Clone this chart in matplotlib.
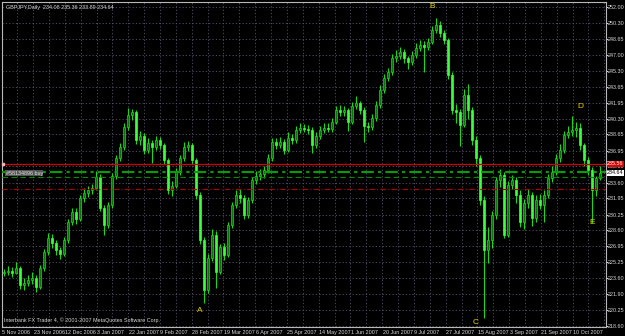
import numpy as np
import matplotlib.pyplot as plt
import matplotlib.transforms as mtransforms

# GBPJPY daily bars (each entry ~ two trading days)
close = [224.25, 224.36, 224.15, 224.67, 222.89, 223.10, 223.42, 223.63, 222.68, 224.67,
         226.35, 227.81, 227.29, 226.56, 226.14, 227.60, 229.49, 230.54, 229.80, 232.00,
         232.53, 232.84, 233.05, 234.20, 230.96, 229.18, 231.27, 234.31, 236.19, 237.34,
         239.44, 240.69, 241.01, 238.07, 238.49, 237.03, 237.76, 237.34, 238.07, 237.55,
         235.98, 232.84, 233.26, 234.72, 236.19, 237.34, 237.55, 235.98, 232.32, 227.60,
         222.37, 225.72, 228.13, 224.25, 226.87, 226.03, 229.18, 231.27, 232.32, 232.00,
         230.22, 231.79, 233.89, 234.31, 234.51, 234.93, 236.19, 237.87, 237.55, 237.87,
         237.03, 238.28, 238.07, 239.12, 239.33, 239.23, 239.12, 237.55, 238.49, 239.12,
         239.33, 239.23, 239.96, 241.21, 241.01, 241.21, 239.96, 241.63, 241.95, 241.21,
         239.54, 239.44, 240.38, 241.74, 243.31, 244.57, 245.19, 246.66, 246.87, 247.29,
         246.66, 246.24, 246.97, 247.71, 248.02, 247.81, 248.34, 249.59, 250.12, 249.28,
         248.54, 244.88, 241.21, 241.01, 239.65, 242.79, 241.21, 238.07, 236.19, 231.79,
         226.56, 227.60, 230.22, 233.89, 234.41, 228.13, 233.36, 233.89, 232.32, 229.49,
         231.48, 232.32, 229.91, 231.79, 231.27, 232.32, 234.10, 234.72, 236.19, 237.03,
         238.60, 238.91, 239.12, 239.33, 237.55, 235.98, 234.93, 232.84, 234.08, 234.64]

high = [224.6, 224.9, 224.8, 225.3, 224.9, 223.6, 223.9, 224.2, 223.9, 225.0,
        226.7, 228.3, 228.2, 227.6, 226.9, 227.9, 229.8, 231.0, 230.9, 232.3,
        233.0, 233.3, 233.5, 234.8, 234.5, 231.3, 231.6, 234.6, 236.5, 237.8,
        239.8, 241.4, 241.3, 241.2, 239.0, 238.8, 238.3, 238.1, 238.5, 238.4,
        237.8, 236.2, 233.8, 235.1, 236.5, 237.9, 238.0, 237.8, 236.2, 232.6,
        227.9, 226.1, 228.8, 228.5, 227.2, 227.3, 229.5, 231.6, 232.8, 232.9,
        232.3, 232.1, 234.2, 234.8, 235.0, 235.4, 236.6, 238.3, 238.3, 238.4,
        238.2, 238.9, 238.7, 239.5, 239.8, 239.7, 239.6, 239.4, 238.9, 239.5,
        239.8, 239.8, 240.4, 241.6, 241.7, 241.6, 241.4, 242.0, 242.7, 242.2,
        241.5, 240.0, 240.8, 242.2, 243.8, 245.0, 245.6, 247.1, 247.5, 247.8,
        247.6, 246.9, 247.4, 248.2, 248.5, 248.4, 248.8, 250.0, 250.8, 250.5,
        249.6, 248.8, 245.2, 241.8, 241.3, 243.4, 243.9, 241.5, 238.5, 236.5,
        232.2, 229.0, 230.6, 234.2, 235.0, 234.7, 233.8, 234.4, 234.2, 232.8,
        231.9, 232.9, 232.6, 232.3, 232.4, 232.8, 234.5, 235.3, 236.6, 237.6,
        239.0, 239.5, 240.6, 240.0, 239.9, 237.8, 236.3, 235.2, 234.3, 235.36]

low = [223.8, 223.9, 223.7, 224.0, 222.5, 222.4, 222.8, 223.0, 222.2, 222.5,
       224.4, 226.0, 226.8, 226.0, 225.6, 225.9, 227.3, 229.2, 229.3, 229.6,
       231.6, 232.1, 232.4, 232.8, 230.6, 228.1, 228.9, 231.0, 234.0, 235.9,
       237.0, 239.1, 240.2, 237.6, 237.5, 236.6, 236.7, 235.7, 237.0, 237.1,
       235.6, 232.4, 232.2, 233.0, 234.4, 235.9, 236.9, 235.6, 231.9, 227.2,
       221.0, 222.0, 225.4, 222.6, 224.0, 225.5, 225.8, 228.9, 231.0, 231.5,
       229.8, 229.9, 231.5, 233.5, 233.9, 234.1, 234.6, 235.9, 237.1, 237.2,
       236.6, 236.8, 237.6, 237.8, 238.8, 238.9, 238.7, 236.7, 237.2, 238.2,
       238.8, 238.9, 238.9, 239.7, 240.6, 240.6, 239.0, 239.7, 241.3, 240.8,
       237.9, 238.9, 239.1, 240.1, 241.4, 243.0, 244.2, 244.9, 246.2, 246.5,
       246.1, 245.5, 245.9, 246.7, 247.4, 245.2, 247.5, 248.1, 249.3, 248.9,
       248.1, 244.5, 240.8, 239.9, 237.4, 239.4, 240.3, 237.5, 235.3, 231.3,
       219.4, 225.2, 226.8, 229.8, 233.2, 227.8, 227.9, 232.9, 231.5, 229.0,
       228.7, 231.0, 229.1, 229.5, 230.8, 229.5, 232.0, 233.7, 234.4, 235.8,
       236.7, 238.3, 238.5, 238.4, 237.0, 235.4, 234.4, 229.4, 232.2, 233.89]

first_open = 224.1

price_labels = ["252.00", "250.30", "248.65", "247.00", "245.30", "243.65", "241.95",
                "240.30", "238.65", "236.95", "235.30", "233.60", "231.95", "230.25",
                "228.60", "226.95", "225.25", "223.60", "221.90", "220.25", "218.60"]

date_labels = ["5 Nov 2006", "23 Nov 2006", "12 Dec 2006", "3 Jan 2007", "22 Jan 2007",
               "9 Feb 2007", "28 Feb 2007", "19 Mar 2007", "6 Apr 2007", "25 Apr 2007",
               "14 May 2007", "1 Jun 2007", "20 Jun 2007", "9 Jul 2007", "27 Jul 2007",
               "15 Aug 2007", "3 Sep 2007", "21 Sep 2007", "10 Oct 2007"]

# wave markers: (letter, bar index, price)
wave_marks = [("A", 49, 220.27), ("B", 107, 252.0), ("C", 118, 219.0),
              ("D", 144, 241.53), ("E", 147, 229.38)]

bid_line = 235.56
order_price = 234.70
order_dash = 234.17
stop_price = 232.91
header = "GBPJPY,Daily  234.08 235.36 233.89 234.64"

BG = "#000000"
GRID = "#55556a"
TXT = "#d8d8d8"
BULL_BODY = "#007a00"
BEAR_BODY = "#3cff3c"
WICK = "#19d919"
FONT = ["Liberation Sans Narrow", "Liberation Sans", "DejaVu Sans"]
FS = 3.9


def draw_candles(ax, x):
    opens = [first_open] + close[:-1]
    for xi, o, h, l, c in zip(x, opens, high, low, close):
        ax.vlines(xi, l, h, color=WICK, lw=0.8, zorder=3)
        bottom = min(o, c)
        height = max(abs(c - o), 0.06)
        if c >= o:
            ax.bar(xi, height, bottom=bottom, width=2.2, color=BULL_BODY,
                   edgecolor=WICK, linewidth=0.5, zorder=4)
        else:
            ax.bar(xi, height, bottom=bottom, width=2.2, color=BEAR_BODY,
                   edgecolor=BEAR_BODY, linewidth=0.5, zorder=4)


def main():
    plt.rcParams["font.family"] = FONT
    fig = plt.figure(figsize=(6.25, 3.36), dpi=100, facecolor=BG)
    ax = fig.add_axes([2 / 625, 9 / 336, 604 / 625, 325 / 336], facecolor=BG)

    # x in chart pixels, one bar every 4 px
    x = [4 + 4 * i for i in range(len(close))]
    ax.set_xlim(2, 606)
    ax.set_ylim(218.49, 252.52)

    # grid
    ticks = [float(v) for v in price_labels]
    for p in ticks:
        ax.axhline(p, color=GRID, lw=0.6, ls=(0, (1.5, 2.5)), zorder=1)
    grid_x = [1.3 + 15.87 * k for k in range(39)]
    for gx in grid_x:
        ax.axvline(gx, color=GRID, lw=0.6, ls=(0, (1.5, 2.5)), zorder=1)

    # date labels
    for k, lab in enumerate(date_labels):
        ax.text(grid_x[2 * k] + 0.5, -0.008, lab, transform=ax.get_xaxis_transform(),
                ha="left", va="top", fontsize=FS, color=TXT, clip_on=False)

    # price axis on the right
    ax.set_yticks(ticks)
    ax.set_yticklabels(price_labels)
    ax.set_xticks([])
    ax.tick_params(axis="y", left=False, labelleft=False, right=True, labelright=True,
                   length=1.2, pad=0.4, labelsize=FS, colors=TXT)
    for s in ax.spines.values():
        s.set_color("#b8b8b8")
        s.set_linewidth(0.8)

    # trade lines
    ax.axhline(bid_line, color="#d00000", lw=0.9, zorder=5)
    ax.axhline(order_price, color="#00a000", lw=1.5, ls=(0, (6, 2, 1.5, 2)), zorder=5)
    ax.axhline(order_dash, color="#008a00", lw=0.8, ls=(0, (5, 3)), zorder=5)
    ax.axhline(stop_price, color="#b00000", lw=0.8, ls=(0, (5, 2, 1, 2)), zorder=5)

    draw_candles(ax, x)

    ytrans = mtransforms.blended_transform_factory(ax.transAxes, ax.transData)
    ax.text(1.002, bid_line, "%.2f" % bid_line, transform=ytrans, fontsize=FS,
            color="white", va="center", ha="left", zorder=10, clip_on=False,
            bbox=dict(boxstyle="square,pad=0.12", fc="#e00000", ec="none"))
    ax.text(1.002, close[-1], "%.2f" % close[-1], transform=ytrans, fontsize=FS,
            color="black", va="center", ha="left", zorder=10, clip_on=False,
            bbox=dict(boxstyle="square,pad=0.12", fc="white", ec="none"))
    ax.plot([3], [bid_line], marker="s", ms=2, color="#ffb0b0", zorder=6, clip_on=False)
    ax.text(0.006, order_price - 0.1, "#58134896 buy", transform=ytrans, fontsize=FS,
            color="#e0e0e0", va="center", ha="left", zorder=7,
            bbox=dict(boxstyle="square,pad=0.1", fc="#555555", ec="none"))

    # wave letters
    for lab, i, p in wave_marks:
        ax.text(x[i], p, lab, fontsize=6, color="#e8d000", ha="center", va="center",
                zorder=8, family=["Liberation Sans", "DejaVu Sans"])

    ax.text(0.006, 0.992, header, transform=ax.transAxes, fontsize=FS, color=TXT,
            ha="left", va="top", zorder=9)
    ax.text(0.004, 0.012, "Interbank FX Trader 4, \u00a9 2001-2007 MetaQuotes Software Corp.",
            transform=ax.transAxes, fontsize=FS, color=TXT, ha="left", va="bottom",
            zorder=9)

    fig.savefig("out.png", dpi=100, facecolor=BG)


if __name__ == "__main__":
    main()
